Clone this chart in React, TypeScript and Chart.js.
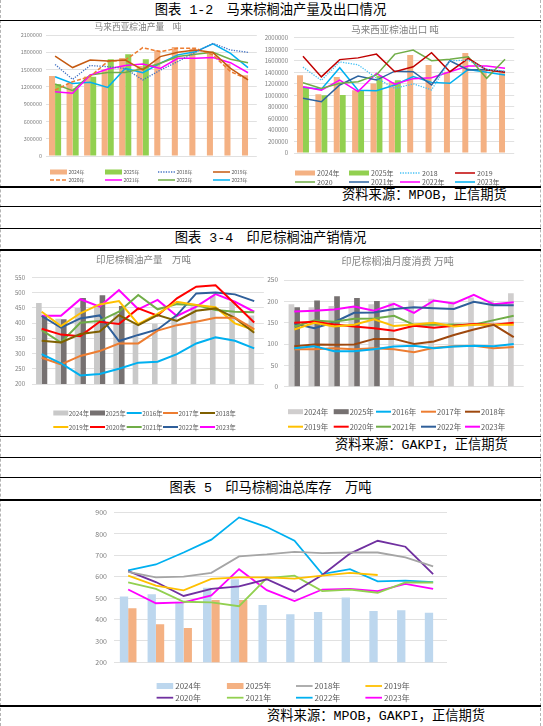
import React, { useEffect, useRef } from "react";
import { Chart, registerables } from "chart.js";
Chart.register(...registerables);

// ---------------- DATA ----------------
const MONTHS = ["1月", "2月", "3月", "4月", "5月", "6月", "7月", "8月", "9月", "10月", "11月", "12月"];
const MONTH_NUMS = ["1", "2", "3", "4", "5", "6", "7", "8", "9", "10", "11", "12"];

// Malaysia production (tons)
const myProd2024 = [1390000, 1270000, 1380000, 1500000, 1700000, 1560000, 1835000, 1890000, 1860000, 1800000, 1600000, 1400000];
const myProd2025 = [1250000, 1170000, 1375000, 1680000, 1765000, 1680000, null, null, null, null, null, null];
const myProd2018 = [1590000, 1330000, 1570000, 1550000, 1520000, 1320000, 1490000, 1640000, 1800000, 1955000, 1840000, 1800000];
const myProd2019 = [1735000, 1535000, 1665000, 1650000, 1665000, 1495000, 1725000, 1800000, 1840000, 1795000, 1520000, 1320000];
const myProd2020 = [1145000, 1290000, 1380000, 1640000, 1665000, 1880000, 1810000, 1870000, 1870000, 1755000, 1465000, 1330000];
const myProd2021 = [1115000, 1090000, 1405000, 1510000, 1570000, 1595000, 1520000, 1695000, 1695000, 1710000, 1620000, 1445000];
const myProd2022 = [1250000, 1135000, 1405000, 1450000, 1450000, 1520000, 1610000, 1725000, 1765000, 1800000, 1680000, 1620000];
const myProd2023 = [1375000, 1260000, 1280000, 1190000, 1520000, 1445000, 1610000, 1755000, 1810000, 1945000, 1780000, 1535000];

// Malaysia exports (tons)
const myExp2024 = [1350000, 1020000, 1320000, 1090000, 1205000, 1230000, 1700000, 1525000, 1410000, 1735000, 1440000, 1400000];
const myExp2025 = [1150000, 1000000, 1005000, 1080000, 1340000, 1260000, null, null, null, null, null, null];
const myExp2018 = [1490000, 1260000, 1580000, 1530000, 1300000, 1120000, 1200000, 1095000, 1600000, 1610000, 1450000, 1420000];
const myExp2019 = [1680000, 1320000, 1620000, 1650000, 1715000, 1410000, 1495000, 1740000, 1410000, 1640000, 1440000, 1400000];
const myExp2020 = [1220000, 1120000, 1210000, 1235000, 1355000, 1715000, 1785000, 1600000, 1625000, 1670000, 1295000, 1625000];
const myExp2021 = [950000, 890000, 1180000, 1335000, 1265000, 1420000, 1410000, 1180000, 1600000, 1440000, 1450000, 1410000];
const myExp2022 = [1150000, 1090000, 1265000, 1065000, 1380000, 1195000, 1290000, 1305000, 1410000, 1510000, 1510000, 1470000];
const myExp2023 = [1140000, 1105000, 1480000, 1090000, 1080000, 1180000, 1325000, 1225000, 1210000, 1450000, 1400000, 1355000];

// Indonesia production (10k tons)
const idProd2024 = [466, 414, 449, 458, 430, 396, 398, 420, 455, 489, 470, 425];
const idProd2025 = [425, 412, 482, 491, 456, null, null, null, null, null, null, null];
const idProd2016 = [298, 268, 228, 233, 250, 270, 273, 298, 333, 353, 342, 317];
const idProd2017 = [286, 264, 292, 308, 333, 333, 375, 393, 404, 417, 417, 380];
const idProd2018 = [342, 336, 364, 372, 426, 393, 426, 407, 440, 448, 417, 368];
const idProd2019 = [437, 390, 432, 461, 472, 396, 430, 470, 459, 452, 399, 377];
const idProd2020 = [381, 362, 357, 404, 397, 448, 424, 481, 519, 524, 463, 402];
const idProd2021 = [377, 336, 401, 407, 437, 492, 445, 462, 459, 443, 437, 435];
const idProd2022 = [423, 385, 415, 425, 341, 361, 379, 426, 497, 500, 494, 472];
const idProd2023 = [424, 424, 478, 454, 508, 445, 476, 423, 454, 495, 470, 437];

// Indonesia consumption (10k tons)
const idCons2024 = [193, 186, 189, 188, 193, 197, 202, 206, 199, 209, 202, 219];
const idCons2025 = [186, 202, 212, 208, 201, null, null, null, null, null, null, null];
const idCons2016 = [90, 95, 83, 83, 88, 94, 96, 90, 94, 96, 95, 100];
const idCons2017 = [88, 88, 90, 88, 90, 88, 81, 91, 95, 96, 90, 93];
const idCons2018 = [95, 99, 98, 99, 112, 112, 100, 106, 121, 134, 145, 116];
const idCons2019 = [134, 150, 141, 145, 158, 142, 146, 150, 141, 145, 145, 145];
const idCons2020 = [150, 152, 146, 141, 137, 131, 143, 138, 143, 147, 145, 150];
const idCons2021 = [141, 155, 152, 159, 160, 166, 145, 145, 146, 145, 156, 166];
const idCons2022 = [148, 137, 151, 173, 174, 182, 186, 184, 182, 199, 191, 191];
const idCons2023 = [176, 178, 181, 188, 178, 194, 173, 202, 195, 215, 193, 198];

// Indonesia + Malaysia total stocks (10k tons)
const inv2024 = [507, 518, 483, 548, 588, 468, 425, 435, 503, 440, 443, 431];
const inv2025 = [453, 378, 360, 491, 491, null, null, null, null, null, null, null];
const inv2018 = [623, 597, 600, 618, 695, 704, 716, 710, 713, 713, 690, 648];
const inv2019 = [605, 558, 536, 590, 597, 597, 591, 605, 618, 608, null, null];
const inv2020 = [626, 575, 510, 543, 555, 588, 530, 608, 708, 768, 740, 612];
const inv2021 = [573, 543, 483, 480, 462, 593, 605, 533, 540, 525, 573, 573];
const inv2022 = [630, 657, 713, 773, 877, 832, 768, 612, 635, 578, 582, 575];
const inv2023 = [540, 476, 480, 513, 635, 537, 486, 540, 543, 533, 566, 543];

// ---------------- STYLE / LAYOUT ----------------
const FONT = '"Noto Sans CJK SC", "Noto Sans", sans-serif';
const PAGE_FONT = '"Liberation Mono", "Noto Sans CJK SC", monospace';
const TICK_COLOR = "#7f7f7f";
const LEGEND_COLOR = "#595959";
const GRID_COLOR = "#d9d9d9";

type Legend = { colX: number[]; rowY: number[]; boxW: number; boxH: number; size: number; gap: number };
type Title = { text: string; x: number; y: number; size: number };

function bar(label: string, data: (number | null)[], color: string, cat: number) {
  return { type: "bar", label, data, backgroundColor: color, borderWidth: 0, order: 2, categoryPercentage: cat, barPercentage: 1 };
}
function line(label: string, data: (number | null)[], color: string, width: number, dash?: number[]) {
  return {
    type: "line", label, data, borderColor: color, backgroundColor: color, borderWidth: width,
    borderDash: dash || [], pointRadius: 0, pointHoverRadius: 0, tension: 0, fill: false, order: 1, spanGaps: false,
  };
}

function overlayPlugin(title: Title | null, legend: Legend) {
  return {
    id: "overlay",
    afterDraw(chart: any) {
      const ctx = chart.ctx as CanvasRenderingContext2D;
      ctx.save();
      if (title) {
        ctx.font = `${title.size}px ${FONT}`;
        ctx.fillStyle = "#808080";
        ctx.textAlign = "center";
        ctx.textBaseline = "middle";
        ctx.fillText(title.text, title.x, title.y);
      }
      const cols = legend.colX.length;
      chart.data.datasets.forEach((ds: any, i: number) => {
        const x = legend.colX[i % cols];
        const y = legend.rowY[Math.floor(i / cols)];
        if (ds.type === "line") {
          ctx.strokeStyle = ds.borderColor;
          ctx.lineWidth = ds.borderWidth;
          ctx.lineCap = "butt";
          ctx.setLineDash(ds.borderDash || []);
          ctx.beginPath();
          ctx.moveTo(x, y);
          ctx.lineTo(x + legend.boxW, y);
          ctx.stroke();
          ctx.setLineDash([]);
        } else {
          ctx.fillStyle = ds.backgroundColor;
          ctx.fillRect(x, y - legend.boxH / 2, legend.boxW, legend.boxH);
        }
        ctx.font = `${legend.size}px ${FONT}`;
        ctx.fillStyle = LEGEND_COLOR;
        ctx.textAlign = "left";
        ctx.textBaseline = "middle";
        ctx.fillText(ds.label, x + legend.boxW + legend.gap, y + 0.3);
      });
      ctx.restore();
    },
  };
}

type Spec = {
  left: number; top: number; width: number; height: number;
  labels: string[]; datasets: any[];
  yMin: number; yMax: number; yStep: number; yWidth: number; yPad: number; yFont: number;
  xPad: number; xFont: number;
  padding: { top: number; right: number; bottom: number; left: number };
  title: Title | null; legend: Legend;
};

function ChartBox({ spec }: { spec: Spec }) {
  const ref = useRef<HTMLCanvasElement | null>(null);
  useEffect(() => {
    if (!ref.current) return;
    const chart = new Chart(ref.current, {
      type: "bar",
      data: { labels: spec.labels, datasets: spec.datasets },
      options: {
        responsive: false,
        animation: false,
        events: [],
        layout: { padding: spec.padding },
        plugins: { legend: { display: false }, title: { display: false }, tooltip: { enabled: false } },
        scales: {
          x: {
            grid: { display: false },
            border: { display: false },
            ticks: { autoSkip: false, maxRotation: 0, padding: spec.xPad, color: TICK_COLOR, font: { family: FONT, size: spec.xFont } },
            afterFit: (s: any) => { s.height = 10; },
          },
          y: {
            min: spec.yMin, max: spec.yMax,
            grid: { color: GRID_COLOR, lineWidth: 0.8, drawTicks: false },
            border: { display: false },
            ticks: {
              stepSize: spec.yStep, padding: spec.yPad, color: TICK_COLOR,
              font: { family: FONT, size: spec.yFont },
              callback: (v: any) => String(v),
            },
            afterFit: (s: any) => { s.width = spec.yWidth; },
          },
        },
      } as any,
      plugins: [overlayPlugin(spec.title, spec.legend)],
    } as any);
    return () => chart.destroy();
  }, [spec]);
  return (
    <div style={{ position: "absolute", left: spec.left, top: spec.top, width: spec.width, height: spec.height }}>
      <canvas ref={ref} width={spec.width} height={spec.height} style={{ width: spec.width, height: spec.height }} />
    </div>
  );
}

const SPEC1: Spec = {
  left: 0, top: 21, width: 262, height: 166,
  labels: MONTHS,
  datasets: [
    bar("2024年", myProd2024, "#f4b183", 0.69),
    bar("2025年", myProd2025, "#92d050", 0.69),
    line("2018年", myProd2018, "#4472c4", 1.3, [1.3, 1.3]),
    line("2019年", myProd2019, "#c55a11", 1.5),
    line("2020年", myProd2020, "#ed7d31", 1.5, [4, 2]),
    line("2021年", myProd2021, "#ff00ff", 1.5),
    line("2022年", myProd2022, "#70ad47", 1.5),
    line("2023年", myProd2023, "#00b0f0", 1.5),
  ],
  yMin: 0, yMax: 2100000, yStep: 300000, yWidth: 46.3, yPad: 4.3, yFont: 5.5,
  xPad: 4.4, xFont: 5.6,
  padding: { top: 14, right: 5.2, bottom: 21, left: 0 },
  title: { text: "马来西亚棕油产量　吨", x: 138, y: 6, size: 8.7 },
  legend: { colX: [50, 105, 158, 213], rowY: [151, 159], boxW: 17, boxH: 5, size: 5, gap: 1.5 },
};

const SPEC2: Spec = {
  left: 262, top: 21, width: 278, height: 166,
  labels: MONTHS,
  datasets: [
    bar("2024年", myExp2024, "#f4b183", 0.65),
    bar("2025年", myExp2025, "#92d050", 0.65),
    line("2018", myExp2018, "#45c1f5", 1.3, [1.3, 1.3]),
    line("2019", myExp2019, "#c00000", 1.5),
    line("2020", myExp2020, "#70ad47", 1.5),
    line("2021年", myExp2021, "#2e64a0", 1.5),
    line("2022年", myExp2022, "#ff00ff", 1.5),
    line("2023年", myExp2023, "#00b0f0", 1.5),
  ],
  yMin: 0, yMax: 2000000, yStep: 200000, yWidth: 31.8, yPad: 5.8, yFont: 6,
  xPad: 6, xFont: 6.5,
  padding: { top: 16.7, right: 25.8, bottom: 24, left: 0 },
  title: { text: "马来西亚棕油出口 吨", x: 133, y: 8, size: 9.5 },
  legend: { colX: [33, 87, 138, 193], rowY: [152, 161], boxW: 20, boxH: 5, size: 7, gap: 2 },
};

const SPEC3: Spec = {
  left: 0, top: 251, width: 268, height: 186,
  labels: MONTHS,
  datasets: [
    bar("2024年", idProd2024, "#c9c9c9", 0.58),
    bar("2025年", idProd2025, "#767171", 0.58),
    line("2016年", idProd2016, "#00b0f0", 2),
    line("2017年", idProd2017, "#ed7d31", 2),
    line("2018年", idProd2018, "#7f6000", 2),
    line("2019年", idProd2019, "#ffc000", 2),
    line("2020年", idProd2020, "#ff0000", 2),
    line("2021年", idProd2021, "#70ad47", 2),
    line("2022年", idProd2022, "#2f5f9a", 2),
    line("2023年", idProd2023, "#ff00ff", 2),
  ],
  yMin: 200, yMax: 550, yStep: 50, yWidth: 32, yPad: 7, yFont: 6,
  xPad: 7.4, xFont: 6,
  padding: { top: 26.3, right: 1.5, bottom: 43, left: 0 },
  title: { text: "印尼棕榈油产量　万吨", x: 143.5, y: 8, size: 9.5 },
  legend: { colX: [53.3, 90, 126.7, 163, 200], rowY: [162, 176], boxW: 15, boxH: 5, size: 6.3, gap: 0.5 },
};

const SPEC4: Spec = {
  left: 262, top: 251, width: 278, height: 186,
  labels: MONTH_NUMS,
  datasets: [
    bar("2024年", idCons2024, "#d0cece", 0.57),
    bar("2025年", idCons2025, "#767171", 0.57),
    line("2016年", idCons2016, "#00b0f0", 2),
    line("2017年", idCons2017, "#ed7d31", 2),
    line("2018年", idCons2018, "#9e480e", 2),
    line("2019年", idCons2019, "#ffc000", 2),
    line("2020年", idCons2020, "#ff0000", 2),
    line("2021年", idCons2021, "#70ad47", 2),
    line("2022年", idCons2022, "#2f5f9a", 2),
    line("2023年", idCons2023, "#ff00ff", 2),
  ],
  yMin: 0, yMax: 250, yStep: 50, yWidth: 22.3, yPad: 6.3, yFont: 6.5,
  xPad: 6, xFont: 6.5,
  padding: { top: 29, right: 16.3, bottom: 40.3, left: 0 },
  title: { text: "印尼棕榈油月度消费 万吨", x: 135.7, y: 10.7, size: 10 },
  legend: { colX: [26, 71.7, 114, 159, 203], rowY: [160.7, 175.7], boxW: 15, boxH: 5, size: 7.5, gap: 1 },
};

const SPEC5: Spec = {
  left: 0, top: 501, width: 540, height: 205,
  labels: MONTHS,
  datasets: [
    bar("2024年", inv2024, "#bdd7ee", 0.6),
    bar("2025年", inv2025, "#f4b183", 0.6),
    line("2018年", inv2018, "#a5a5a5", 1.8),
    line("2019年", inv2019, "#ffc000", 1.8),
    line("2020年", inv2020, "#7030a0", 1.8),
    line("2021年", inv2021, "#92d050", 1.8),
    line("2022年", inv2022, "#00b0f0", 1.8),
    line("2023年", inv2023, "#ff00ff", 1.8),
  ],
  yMin: 200, yMax: 900, yStep: 100, yWidth: 114.3, yPad: 7.3, yFont: 7,
  xPad: 5.5, xFont: 6.5,
  padding: { top: 5.7, right: 93, bottom: 33.7, left: 0 },
  title: null,
  legend: { colX: [156.6, 226.9, 296, 365.4], rowY: [185, 196.7], boxW: 16.6, boxH: 6, size: 8, gap: 2 },
};

const H_LINES = [20.7, 187, 206.7, 228.3, 250, 436.7, 457.3, 477.3, 500, 706];

function PageText({ text, cy, left }: { text: string; cy: number; left?: number }) {
  const base: React.CSSProperties = {
    position: "absolute", top: cy - 8, height: 16, lineHeight: "16px", fontSize: 13.3,
    whiteSpace: "nowrap", color: "#000", fontFamily: PAGE_FONT,
  };
  if (left === undefined) return <div style={{ ...base, left: 0, width: 541, textAlign: "center" }}>{text}</div>;
  return <div style={{ ...base, left }}>{text}</div>;
}

export default function App() {
  return (
    <div style={{ position: "absolute", left: 0, top: 0, width: 543, height: 726, background: "#fff", overflow: "hidden" }}>
      <div style={{ position: "absolute", left: 0, top: 0, width: 0, height: 726, borderLeft: "1px dashed #b4b4b4" }} />
      <div style={{ position: "absolute", left: 540, top: 0, width: 0, height: 726, borderLeft: "1px dashed #b4b4b4" }} />
      {H_LINES.map((y) => (
        <div key={y} style={{ position: "absolute", left: 0, top: y - 0.75, width: 541, height: 1.5, background: "#000" }} />
      ))}
      <PageText text="图表 1-2　马来棕榈油产量及出口情况" cy={10.5} />
      <PageText text="资料来源：MPOB，正信期货" cy={195.5} left={342} />
      <PageText text="图表 3-4　印尼棕榈油产销情况" cy={239.3} />
      <PageText text="资料来源：GAKPI，正信期货" cy={446} left={335} />
      <PageText text="图表 5　印马棕榈油总库存　万吨" cy={489.3} />
      <PageText text="资料来源：MPOB，GAKPI，正信期货" cy={717.3} left={267} />
      <ChartBox spec={SPEC1} />
      <ChartBox spec={SPEC2} />
      <ChartBox spec={SPEC3} />
      <ChartBox spec={SPEC4} />
      <ChartBox spec={SPEC5} />
    </div>
  );
}
